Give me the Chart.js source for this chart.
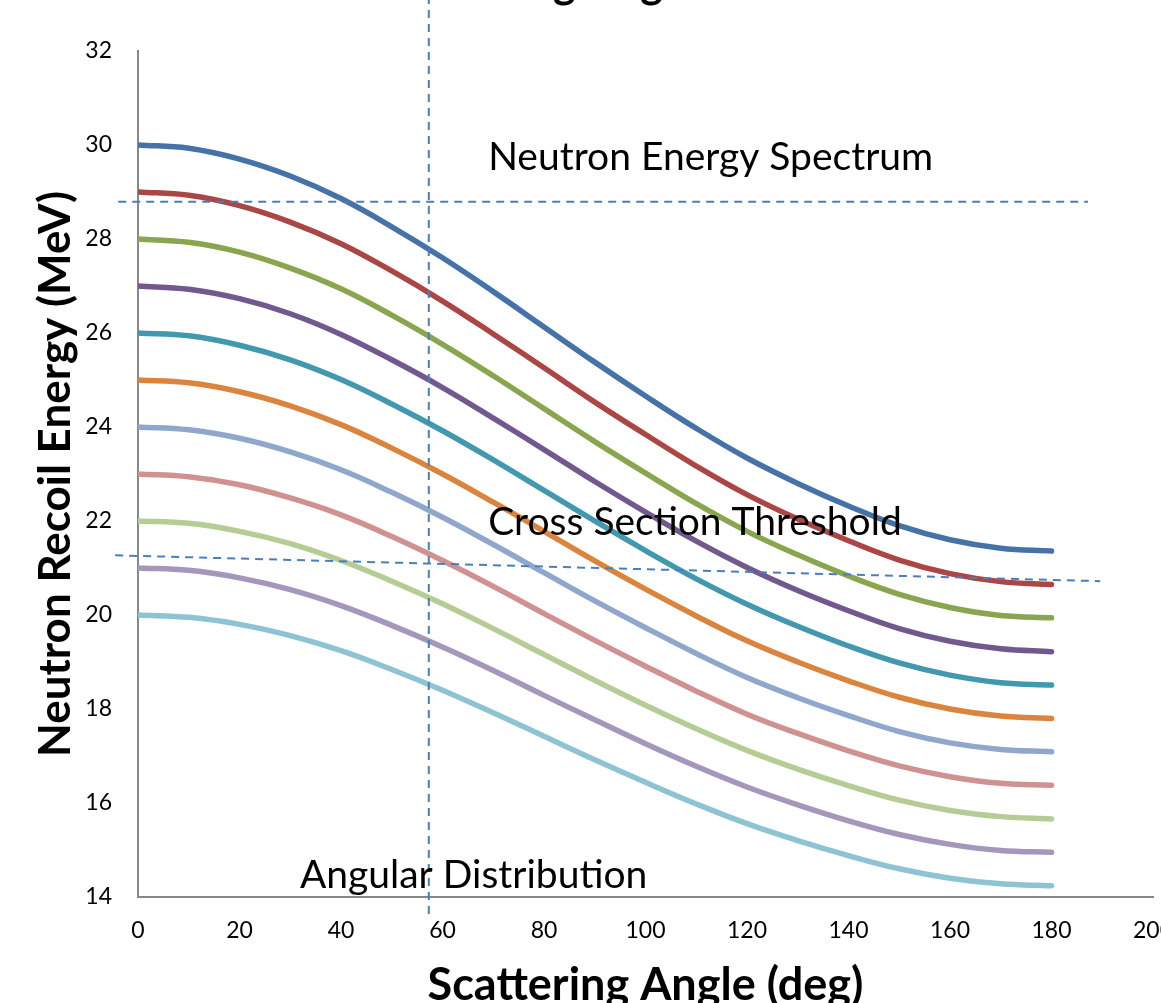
<!DOCTYPE html>
<html>
<head>
<meta charset="utf-8">
<title>Neutron Recoil Energy</title>
<script src="https://cdn.jsdelivr.net/npm/chart.js@4.4.1/dist/chart.umd.min.js"></script>
<style>
    html, body { margin: 0; padding: 0; overflow: hidden; background: #fff; width: 1161px; height: 1003px; }
    #wrap { position: absolute; left: 0; top: -60px; width: 1200px; height: 1100px; }
</style>
</head>
<body>
<div id="wrap"><canvas id="recoilChart"></canvas></div>
<script>
// Dados (ângulo em graus, energia em MeV)
const angles = [0, 10, 20, 30, 40, 50, 60, 70, 80, 90, 100, 110, 120, 130, 140, 150, 160, 170, 180];

const e30 = [30, 29.93, 29.70, 29.34, 28.86, 28.26, 27.60, 26.88, 26.13, 25.38, 24.66, 23.97, 23.34, 22.80, 22.32, 21.90, 21.60, 21.42, 21.36];
const e29 = [29, 28.93, 28.71, 28.36, 27.90, 27.32, 26.68, 25.98, 25.26, 24.53, 23.84, 23.17, 22.56, 22.04, 21.58, 21.17, 20.88, 20.71, 20.65];
const e28 = [28, 27.93, 27.72, 27.38, 26.94, 26.38, 25.76, 25.09, 24.39, 23.69, 23.02, 22.37, 21.78, 21.28, 20.83, 20.44, 20.16, 19.99, 19.94];
const e27 = [27, 26.93, 26.73, 26.41, 25.97, 25.43, 24.84, 24.19, 23.52, 22.84, 22.19, 21.57, 21.01, 20.52, 20.09, 19.71, 19.44, 19.28, 19.22];
const e26 = [26, 25.94, 25.74, 25.43, 25.01, 24.49, 23.92, 23.30, 22.65, 22.00, 21.37, 20.77, 20.23, 19.76, 19.34, 18.98, 18.72, 18.56, 18.51];
const e25 = [25, 24.94, 24.75, 24.45, 24.05, 23.55, 23.00, 22.40, 21.78, 21.15, 20.55, 19.98, 19.45, 19.00, 18.60, 18.25, 18.00, 17.85, 17.80];
const e24 = [24, 23.94, 23.76, 23.47, 23.09, 22.61, 22.08, 21.50, 20.90, 20.30, 19.73, 19.18, 18.67, 18.24, 17.86, 17.52, 17.28, 17.14, 17.09];
const e23 = [23, 22.94, 22.77, 22.49, 22.13, 21.67, 21.16, 20.61, 20.03, 19.46, 18.91, 18.38, 17.89, 17.48, 17.11, 16.79, 16.56, 16.42, 16.38];
const e22 = [22, 21.95, 21.78, 21.52, 21.16, 20.72, 20.24, 19.71, 19.16, 18.61, 18.08, 17.58, 17.12, 16.72, 16.37, 16.06, 15.84, 15.71, 15.66];
const e21 = [21, 20.95, 20.79, 20.54, 20.20, 19.78, 19.32, 18.82, 18.29, 17.77, 17.26, 16.78, 16.34, 15.96, 15.62, 15.33, 15.12, 14.99, 14.95];
const e20 = [20, 19.95, 19.80, 19.56, 19.24, 18.84, 18.40, 17.92, 17.42, 16.92, 16.44, 15.98, 15.56, 15.20, 14.88, 14.60, 14.40, 14.28, 14.24];

const series = [e30, e29, e28, e27, e26, e25, e24, e23, e22, e21, e20];
const colors = ['#4572a7', '#aa4643', '#89a54e', '#71588f', '#4198af', '#db843d',
                '#8fa7cd', '#d09191', '#b5cc94', '#a497bc', '#8ec3d4'];

// Textos das anotações (em unidades dos eixos)
const notes = [
    { text: 'Neutron Energy Spectrum', x: 69, y: 29.74 },
    { text: 'Cross Section Threshold', x: 69, y: 21.96 },
    { text: 'Angular Distribution', x: 31.9, y: 14.45 }
];

const anotacoes = {
    id: 'anotacoes',
    afterDatasetsDraw(chart) {
        const { ctx, scales: { x, y } } = chart;
        ctx.save();
        ctx.strokeStyle = '#4a7ebb';
        ctx.lineWidth = 2;
        ctx.setLineDash([8, 6]);

        // vertical
        ctx.beginPath();
        ctx.moveTo(x.getPixelForValue(57.3), 0);
        ctx.lineTo(x.getPixelForValue(57.3), y.getPixelForValue(13.62));
        ctx.stroke();

        // horizontal (espectro)
        ctx.beginPath();
        ctx.moveTo(x.getPixelForValue(-3.9), y.getPixelForValue(28.79));
        ctx.lineTo(x.getPixelForValue(187.2), y.getPixelForValue(28.79));
        ctx.stroke();

        // limiar (levemente inclinada)
        ctx.beginPath();
        ctx.moveTo(x.getPixelForValue(-4.5), y.getPixelForValue(21.27));
        ctx.lineTo(x.getPixelForValue(189.6), y.getPixelForValue(20.72));
        ctx.stroke();

        ctx.setLineDash([]);
        ctx.fillStyle = '#000';
        ctx.font = '39px Lato';
        ctx.textAlign = 'left';
        ctx.textBaseline = 'middle';
        notes.forEach(n => {
            ctx.fillText(n.text, x.getPixelForValue(n.x), y.getPixelForValue(n.y));
        });

        // título (cortado no topo)
        ctx.font = 'bold 43px Lato';
        ctx.textBaseline = 'alphabetic';
        const titulo = 'Scattering Angle';
        const x0 = 553 - ctx.measureText('Scatterin').width;
        ctx.fillText(titulo, x0, 58);
        ctx.restore();
    }
};

const ctxRecoil = document.getElementById('recoilChart').getContext('2d');
new Chart(ctxRecoil, {
    type: 'line',
    data: {
        datasets: series.map((s, i) => ({
            label: 'E' + i,
            data: angles.map((a, j) => ({ x: a, y: s[j] })),
            borderColor: colors[i],
            borderWidth: 5.5,
            borderCapStyle: 'round',
            pointRadius: 0,
            fill: false,
            tension: 0.4
        }))
    },
    options: {
        responsive: true,
        maintainAspectRatio: false,
        animation: false,
        events: [],
        layout: { padding: { left: 0, right: 47, top: 111, bottom: 0 } },
        plugins: {
            legend: { display: false },
            tooltip: { enabled: false }
        },
        scales: {
            x: {
                type: 'linear',
                min: 0,
                max: 200,
                afterFit(scale) { scale.height = 143; },
                grid: { display: false, drawTicks: false },
                border: { display: true, color: '#888', width: 2 },
                ticks: { stepSize: 20, padding: 20, color: '#000', font: { family: 'Lato', size: 23 } },
                title: {
                    display: true,
                    text: 'Scattering Angle (deg)',
                    color: '#000',
                    font: { family: 'Lato', size: 45, weight: 'bold' },
                    padding: { top: 0, bottom: 28 }
                }
            },
            y: {
                min: 14,
                max: 32,
                afterFit(scale) { scale.width = 138; },
                grid: { display: false, drawTicks: false },
                border: { display: true, color: '#888', width: 2 },
                ticks: { stepSize: 2, padding: 26, color: '#000', font: { family: 'Lato', size: 23 } },
                title: {
                    display: true,
                    text: 'Neutron Recoil Energy (MeV)',
                    color: '#000',
                    font: { family: 'Lato', size: 44, weight: 'bold' },
                    padding: { top: 29, bottom: 0 }
                }
            }
        }
    },
    plugins: [anotacoes]
});
</script>
</body>
</html>
